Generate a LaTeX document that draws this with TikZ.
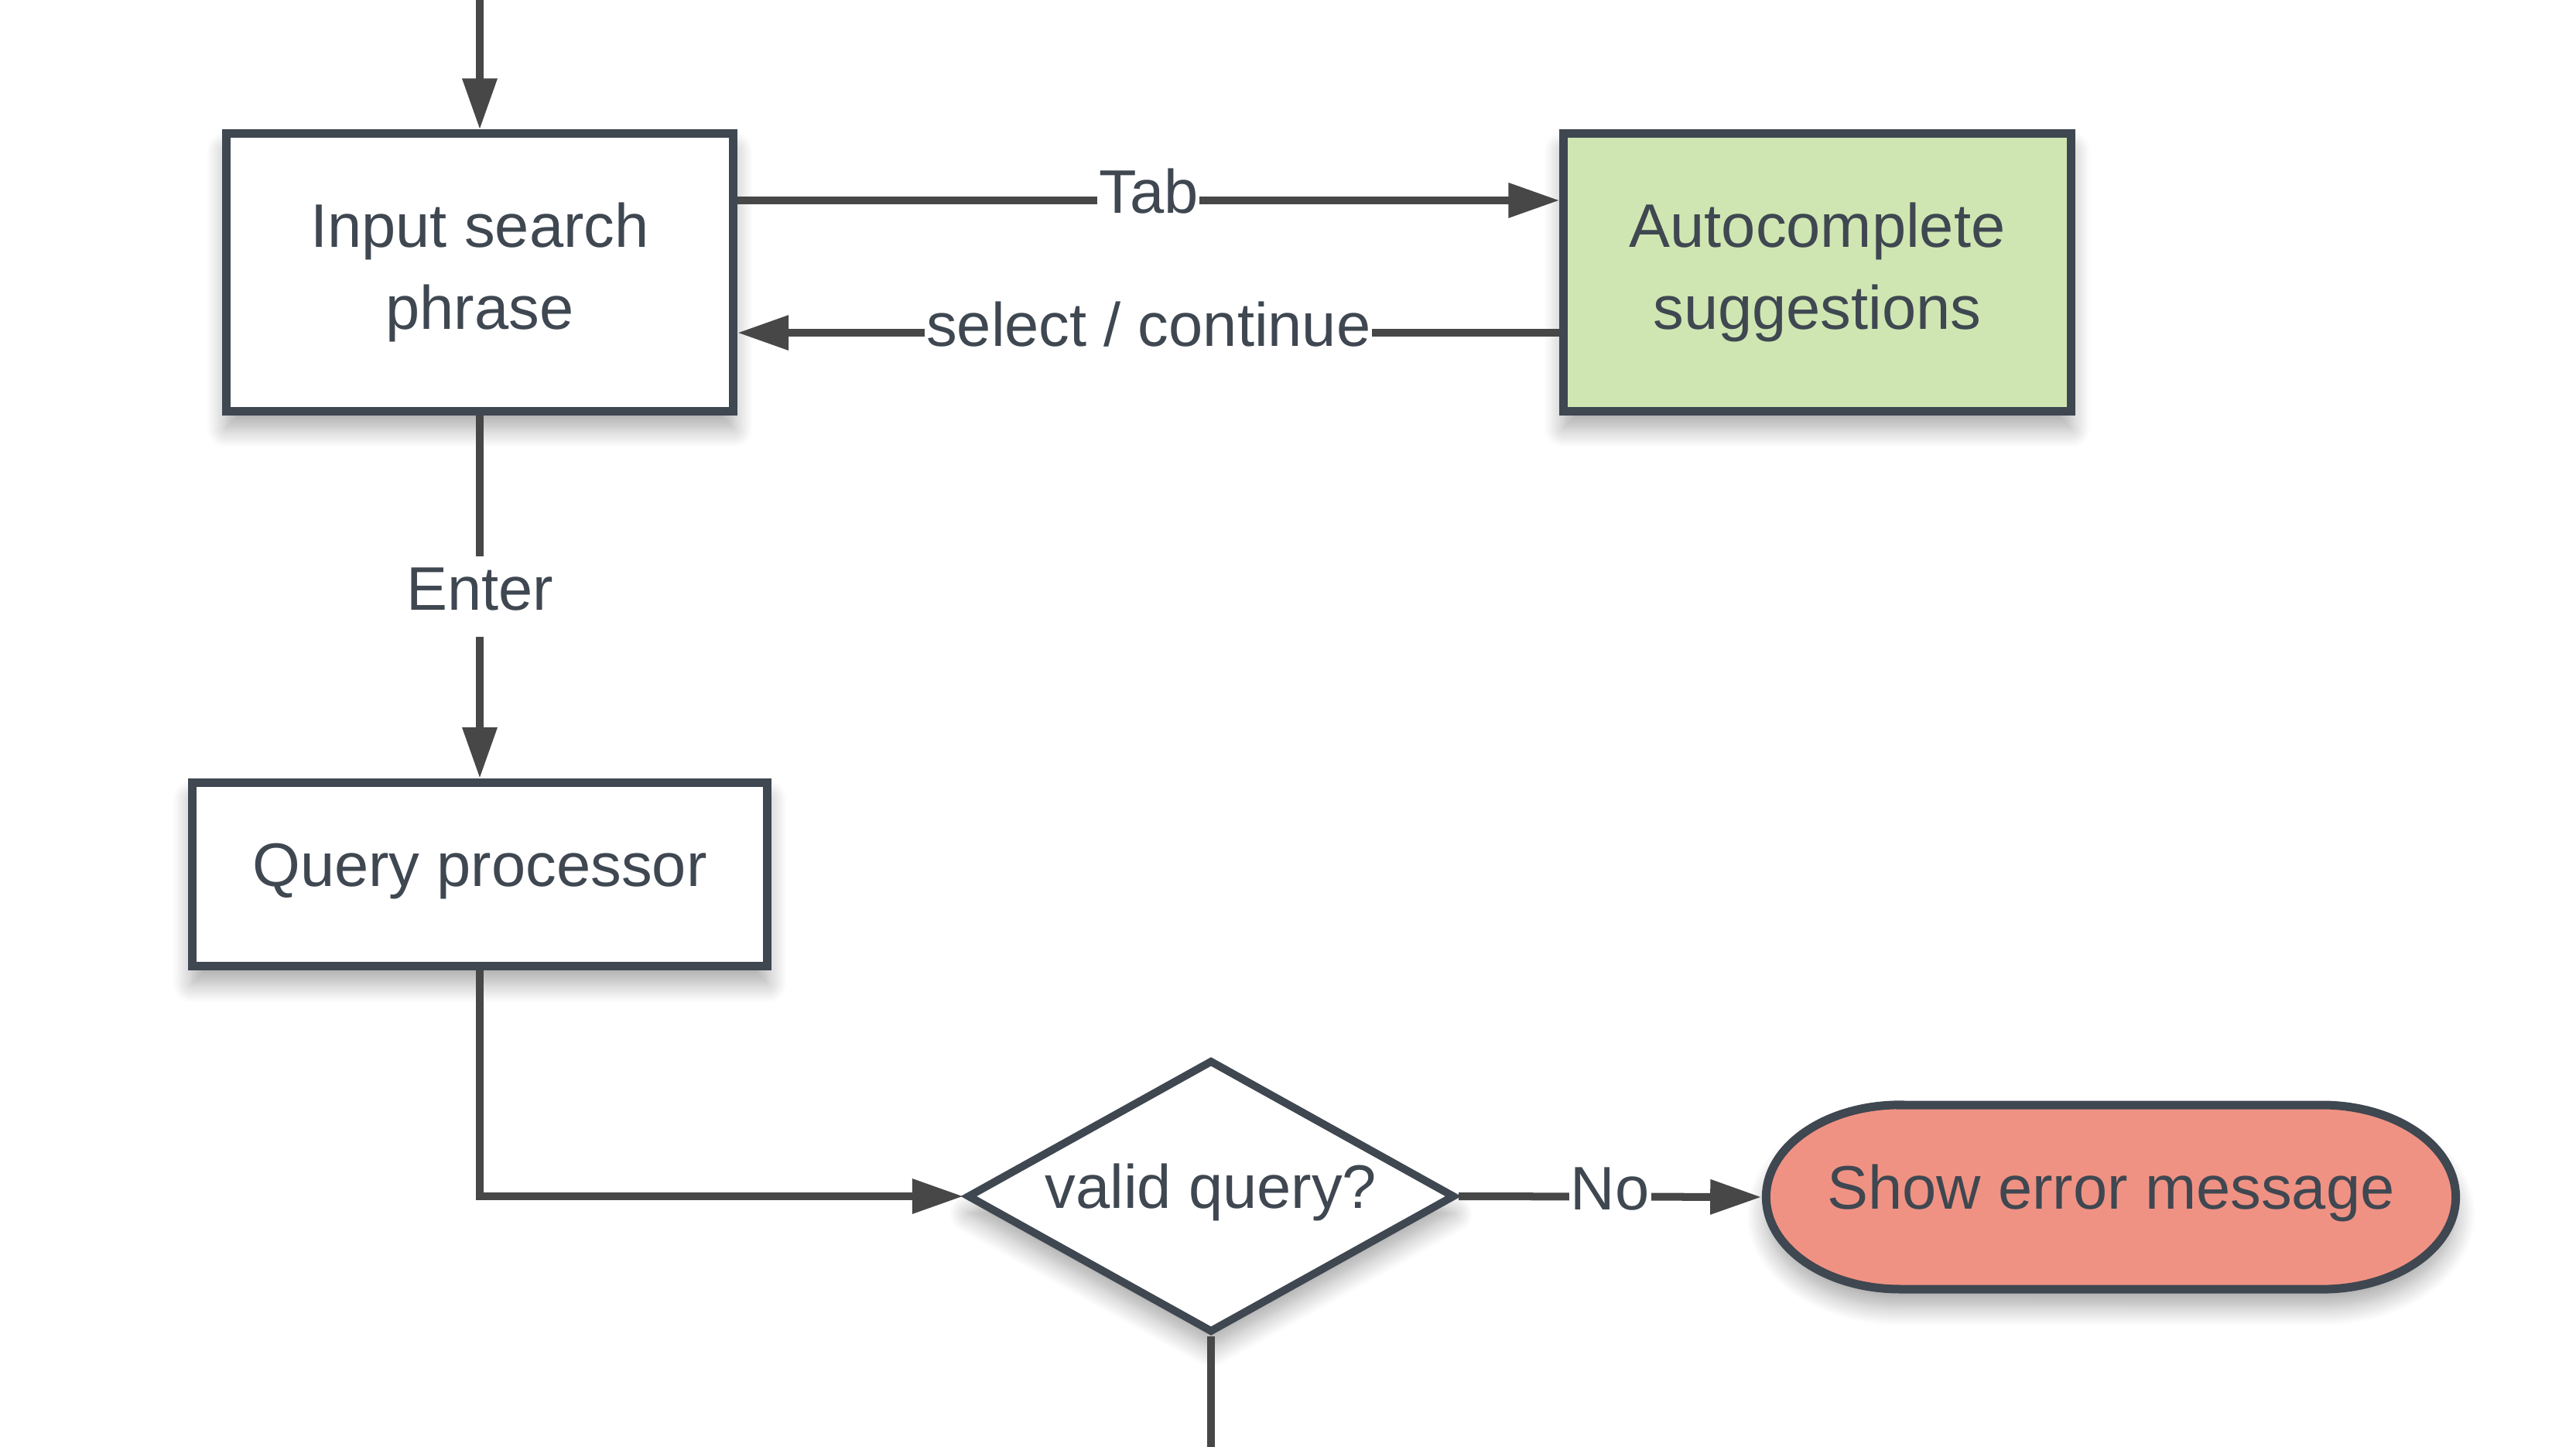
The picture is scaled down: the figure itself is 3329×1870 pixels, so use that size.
\documentclass[tikz,border=0pt]{standalone}
\usepackage{fontspec}
\setmainfont{Liberation Sans}
\usetikzlibrary{arrows.meta,shapes.geometric,shadows.blur,calc,backgrounds}
\definecolor{edge}{HTML}{3F4751}
\definecolor{arr}{HTML}{474747}
\definecolor{txt}{HTML}{3F4751}
\definecolor{gfill}{HTML}{CFE6B2}
\definecolor{rfill}{HTML}{F09283}
\begin{document}
\begin{tikzpicture}[x=0.01cm,y=-0.01cm,
  every node/.style={font=\fontsize{22.6pt}{30.2pt}\selectfont, text=txt},
  shd/.style={blur shadow={shadow xshift=0cm, shadow yshift=-0.22cm, shadow blur radius=0.25cm, shadow opacity=35, shadow blur steps=14}},
  box/.style={draw=edge, line width=0.11cm, fill=white, shd, align=center, inner sep=0pt},
  oneline/.style={text height=0.58cm, text depth=0.27cm},
  conn/.style={draw=arr, line width=0.1cm, -{Triangle[length=0.66cm,width=0.43cm]}},
  plainline/.style={draw=arr, line width=0.1cm},
  lbl/.style={fill=white, text height=0.58cm, text depth=0.24cm, inner xsep=0.02cm, inner ysep=0.11cm}]
\path[use as bounding box] (0,0) rectangle (3329,1870);

\node[box, minimum width=6.55cm, minimum height=3.58cm] (inp) at (620,352) {Input search\\phrase};
\node[box, fill=gfill, minimum width=6.55cm, minimum height=3.58cm] (auto) at (2348.5,352) {Autocomplete\\suggestions};
\node[box, oneline, minimum width=7.43cm, minimum height=2.37cm] (qp) at (620,1130) {Query processor};
\node[box, oneline, diamond, aspect=1.79, line width=0.1cm, minimum width=6.3cm, minimum height=3.52cm] (dia) at (1565,1546) {valid query?};
\node[oneline, inner sep=0pt, outer sep=0.06cm, minimum width=8.91cm, minimum height=2.38cm] (err) at (2728,1547) {Show error message};
\begin{scope}[on background layer]
\path[draw=edge, line width=0.11cm, fill=rfill, shd]
  ($(err.center)+(-272.5,-119)$) -- ($(err.center)+(272.5,-119)$)
  arc[start angle=90, end angle=-90, x radius=1.73cm, y radius=1.19cm]
  -- ($(err.center)+(-272.5,119)$)
  arc[start angle=270, end angle=90, x radius=1.73cm, y radius=1.19cm] -- cycle;
\end{scope}

\coordinate (topc) at (620,0);
\coordinate (botc) at (1565,1870);
\draw[conn] (topc) -- (inp.north);
\draw[conn] ([yshift=0.93cm]inp.east) -- node[lbl]{Tab} ([yshift=0.93cm]auto.west);
\draw[conn] ([yshift=-0.78cm]auto.west) -- node[lbl]{select / continue} ([yshift=-0.78cm]inp.east);
\draw[conn] (inp.south) -- node[lbl]{Enter} (qp.north);
\draw[conn] (qp.south) |- (dia.west);
\draw[conn] (dia.east) -- node[lbl]{No} (err.west);
\draw[plainline] (dia.south) -- (botc);
\end{tikzpicture}
\end{document}
